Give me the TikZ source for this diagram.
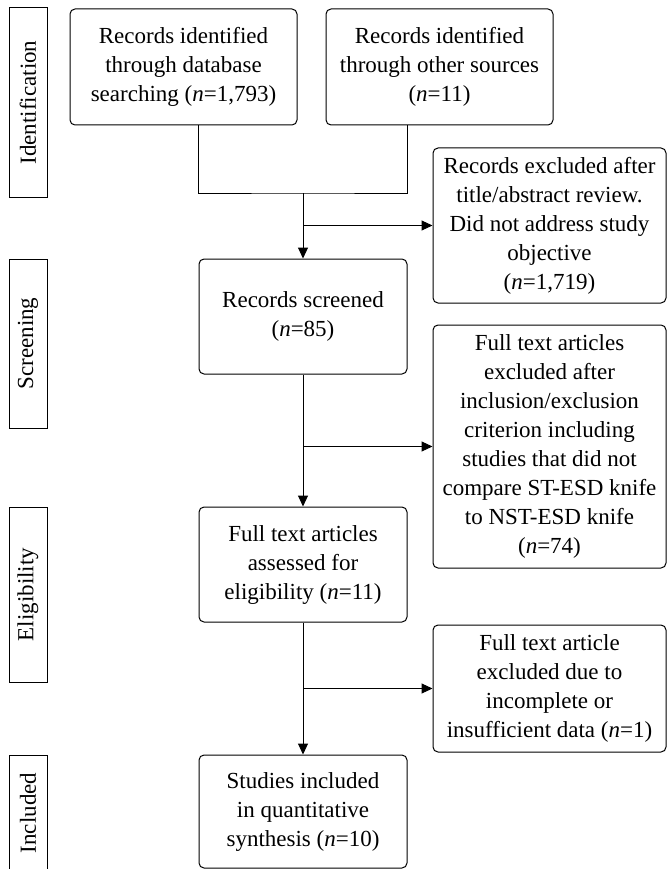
\documentclass[tikz,border=0pt]{standalone}
\usepackage{fontspec}
\setmainfont{Liberation Serif}
\usetikzlibrary{calc,arrows.meta}
\newcommand{\unitsize}{1pt}
\newcommand{\makestage}[4]{
	\node[stage, minimum width=#4] (#1) at (28,#3) {#2};
}

\begin{document}
\begin{tikzpicture}[x=\unitsize,y=-\unitsize,
	box/.style={draw, line width=1pt, rounded corners=5pt, align=center, inner sep=2pt, font=\fontsize{23}{29}\selectfont},
	stage/.style={draw, line width=1pt, rotate=90, minimum height=38pt, inner sep=0pt, font=\fontsize{23}{29}\selectfont},
	flow/.style={line width=1pt},
	arrow/.style={flow, -{Triangle[length=11pt,width=10pt]}}]
	\useasboundingbox (0,0) rectangle (667,869);

	\makestage{identification}{Identification}{102.5}{189pt}
	\makestage{screening}{Screening}{343.5}{169pt}
	\makestage{eligibility}{Eligibility}{594.5}{175pt}
	\makestage{includedstage}{Included}{813}{116pt}

	\node[box, minimum width=227pt, minimum height=116pt] (database) at (183.5,67) {Records identified\\through database\\searching (\emph{n}=1,793)};
	\node[box, minimum width=227pt, minimum height=116pt] (other) at (439.5,67) {Records identified\\through other sources\\(\emph{n}=11)};
	\node[box, minimum width=208pt, minimum height=115pt] (screened) at (303,316.5) {Records screened\\(\emph{n}=85)};
	\node[box, minimum width=208pt, minimum height=115pt] (assessed) at (303,564.5) {Full text articles\\assessed for\\eligibility (\emph{n}=11)};
	\node[box, minimum width=208pt, minimum height=113pt] (included) at (303,811.5) {Studies included\\in quantitative\\synthesis (\emph{n}=10)};

	\node[box, minimum width=233pt, minimum height=155pt] (excluded) at (549.5,225.5) {Records excluded after\\title/abstract review.\\Did not address study\\objective\\(\emph{n}=1,719)};
	\node[box, minimum width=233pt, minimum height=243pt] (fulltext) at (549.5,446.5) {Full text articles\\excluded after\\inclusion/exclusion\\criterion including\\studies that did not\\compare ST-ESD knife\\to NST-ESD knife\\(\emph{n}=74)};
	\node[box, minimum width=233pt, minimum height=127pt] (incomplete) at (549.5,688.5) {Full text article\\excluded due to\\incomplete or\\insufficient data (\emph{n}=1)};

	\coordinate (merge) at (303,193);

	\draw[flow] (screened.west |- database.south) |- (merge) -| (screened.east |- other.south);
	\draw[arrow] (merge) -- (screened);
	\draw[arrow] (screened.north |- excluded.west) -- (excluded);
	\draw[arrow] (screened) -- (assessed);
	\draw[arrow] (screened.south |- fulltext.west) -- (fulltext);
	\draw[arrow] (assessed) -- (included);
	\draw[arrow] (assessed.south |- incomplete.west) -- (incomplete);

\end{tikzpicture}
\end{document}
